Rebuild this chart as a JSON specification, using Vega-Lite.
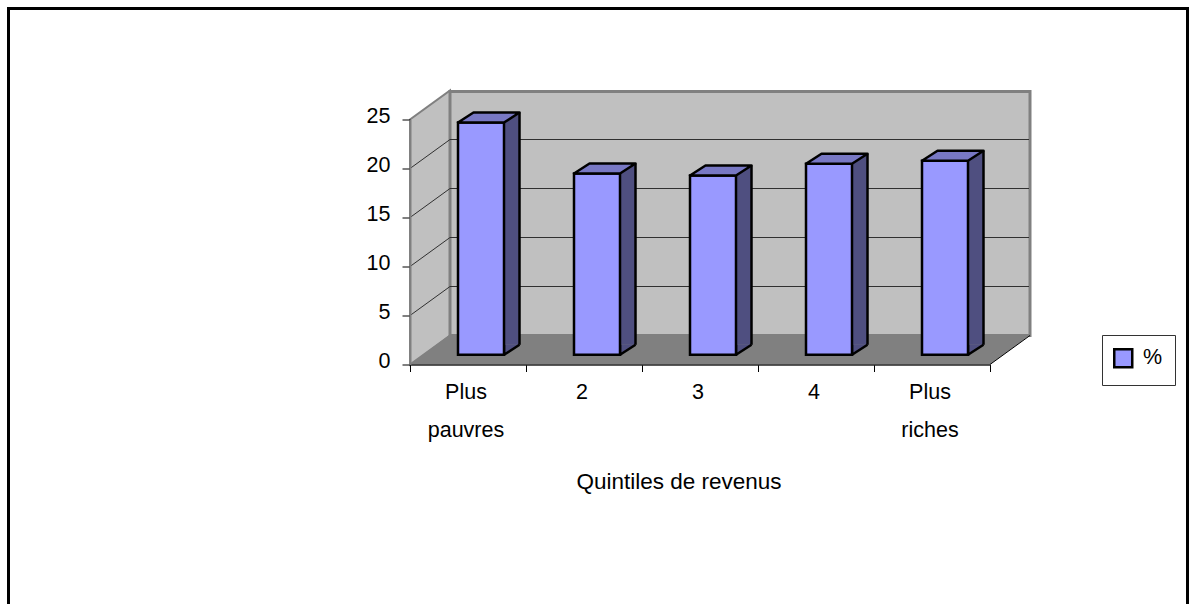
{
"$schema":"https://vega.github.io/schema/vega-lite/v6.json",
"width":580,"height":245,
"autosize":{"type":"none"},
"padding":{"left":410,"top":119.5,"right":206,"bottom":239.5},
"background":"#ffffff",
"config":{"view":{"stroke":null},"font":"Liberation Sans"},
"datasets":{
"bars":[{"quintile":"Plus pauvres","pct":23.7},{"quintile":"2","pct":18.5},{"quintile":"3","pct":18.3},{"quintile":"4","pct":19.5},{"quintile":"Plus riches","pct":19.8}],
"origin":[{"v":0}],
"grid":[{"v":5},{"v":10},{"v":15},{"v":20}]
},
"resolve":{"scale":{"y":"shared"}},
"layer":[
{"data":{"name":"origin"},"mark":{"type":"point","filled":false,"opacity":1,"size":4,"fill":"#ffffff","fillOpacity":0,"stroke":"#000000","strokeWidth":3,"shape":"M-401.5,250 L-401.5,-356 L777.5,-356 L777.5,250"},
 "encoding":{"x":{"datum":"Plus pauvres","bandPosition":0,"type":"nominal","scale":{"domain":["Plus pauvres","2","3","4","Plus riches"],"paddingInner":0,"paddingOuter":0},"sort":null},"y":{"field":"v","type":"quantitative","scale":{"domain":[0,25],"nice":false,"padding":0,"zero":false}}}},
{"data":{"name":"origin"},"mark":{"type":"point","filled":true,"opacity":1,"size":4,"fill":"#C0C0C0","stroke":"#808080","strokeWidth":2,"shape":"M0,0 L0,-245 L40,-274 L40,-29 Z"},
 "encoding":{"x":{"datum":"Plus pauvres","bandPosition":0,"type":"nominal"},"y":{"field":"v","type":"quantitative"}}},
{"data":{"name":"origin"},"mark":{"type":"point","filled":true,"opacity":1,"size":4,"fill":"#C0C0C0","stroke":"#808080","strokeWidth":3,"shape":"M40,-273 L620,-273 L620,-29 L40,-29 Z"},
 "encoding":{"x":{"datum":"Plus pauvres","bandPosition":0,"type":"nominal"},"y":{"field":"v","type":"quantitative"}}},
{"data":{"name":"origin"},"mark":{"type":"point","filled":true,"opacity":1,"size":4,"fill":"#808080","strokeWidth":0,"shape":"M0,0 L40,-30 L621,-30 L580,0 Z"},
 "encoding":{"x":{"datum":"Plus pauvres","bandPosition":0,"type":"nominal"},"y":{"field":"v","type":"quantitative"}}},
{"data":{"name":"origin"},"mark":{"type":"point","filled":false,"opacity":1,"size":4,"stroke":"#000000","strokeWidth":1,"shape":"M580,0 L620,-29"},
 "encoding":{"x":{"datum":"Plus pauvres","bandPosition":0,"type":"nominal"},"y":{"field":"v","type":"quantitative"}}},
{"data":{"name":"grid"},"mark":{"type":"point","filled":false,"opacity":1,"size":4,"stroke":"#303030","strokeWidth":1,"shape":"M0,0 L40,-29 L619,-29"},
 "encoding":{"x":{"datum":"Plus pauvres","bandPosition":0,"type":"nominal"},"y":{"field":"v","type":"quantitative"}}},
{"data":{"name":"bars"},"mark":{"type":"bar","size":46,"fill":"#4F4F80","xOffset":28.5,"yOffset":-19.7,"y2Offset":-19.7},
 "encoding":{"x":{"field":"quintile","type":"nominal","sort":null},"y":{"field":"pct","type":"quantitative"},"y2":{"datum":0}}},
{"data":{"name":"bars"},"mark":{"type":"rule","stroke":"#000000","strokeWidth":2.5,"xOffset":51.5,"yOffset":-19.7,"y2Offset":-19.7},
 "encoding":{"x":{"field":"quintile","type":"nominal","sort":null},"y":{"field":"pct","type":"quantitative"},"y2":{"datum":0}}},
{"data":{"name":"bars"},"mark":{"type":"point","filled":true,"opacity":1,"size":4,"fill":"#4F4F80","stroke":"#000000","strokeWidth":2.5,"strokeJoin":"round","xOffset":13,"yOffset":-9.7,"shape":"M23,-10 L23,0 L38.5,-10"},
 "encoding":{"x":{"field":"quintile","type":"nominal","sort":null},"y":{"datum":0}}},
{"data":{"name":"bars"},"mark":{"type":"bar","size":46,"stroke":"#000000","strokeWidth":2.5,"xOffset":13,"yOffset":-9.7,"y2Offset":-9.7},
 "encoding":{
  "x":{"field":"quintile","type":"nominal","sort":null,"title":"Quintiles de revenus","axis":{"tickBand":"extent","labelAngle":0,"labelAlign":"center","labelExpr":"split(datum.label,' ')","labelFontSize":21.5,"labelLineHeight":38,"labelOffset":-2.5,"labelPadding":21,"labelColor":"#000000","tickColor":"#000000","tickSize":7,"domainColor":"#222222","domainWidth":1.5,"zindex":1,"titleFontSize":22.5,"titleFontWeight":"normal","titleColor":"#000000","titleX":268.5,"titleY":117,"titleBaseline":"middle"}},
  "y":{"field":"pct","type":"quantitative","title":null,"axis":{"values":[0,5,10,15,20,25],"grid":false,"labelFontSize":21.5,"labelPadding":12,"labelOffset":-3.5,"labelColor":"#000000","tickColor":"#000000","tickSize":8,"domainColor":"#808080","domainWidth":2,"zindex":1}},
  "y2":{"datum":0},
  "fill":{"datum":"%","type":"nominal","scale":{"range":["#9999FF"]},"legend":{"title":null,"orient":"none","legendX":692,"legendY":215.5,"padding":12.5,"strokeColor":"#333333","fillColor":"#ffffff","symbolType":"square","symbolSize":324,"symbolStrokeColor":"#000000","symbolStrokeWidth":2.5,"symbolFillColor":"#9999FF","symbolOpacity":1,"symbolOffset":-2,"labelFontSize":21.5,"labelColor":"#000000","labelOffset":9,"labelBaseline":"middle"}}
 }},
{"data":{"name":"bars"},"mark":{"type":"point","filled":true,"opacity":1,"size":4,"fill":"#7878C4","stroke":"#000000","strokeWidth":2.5,"strokeJoin":"round","xOffset":13,"yOffset":-9.7,"shape":"M-23,0 L-7.5,-10 L38.5,-10 L23,0 Z"},
 "encoding":{"x":{"field":"quintile","type":"nominal","sort":null},"y":{"field":"pct","type":"quantitative"}}}
]
}
